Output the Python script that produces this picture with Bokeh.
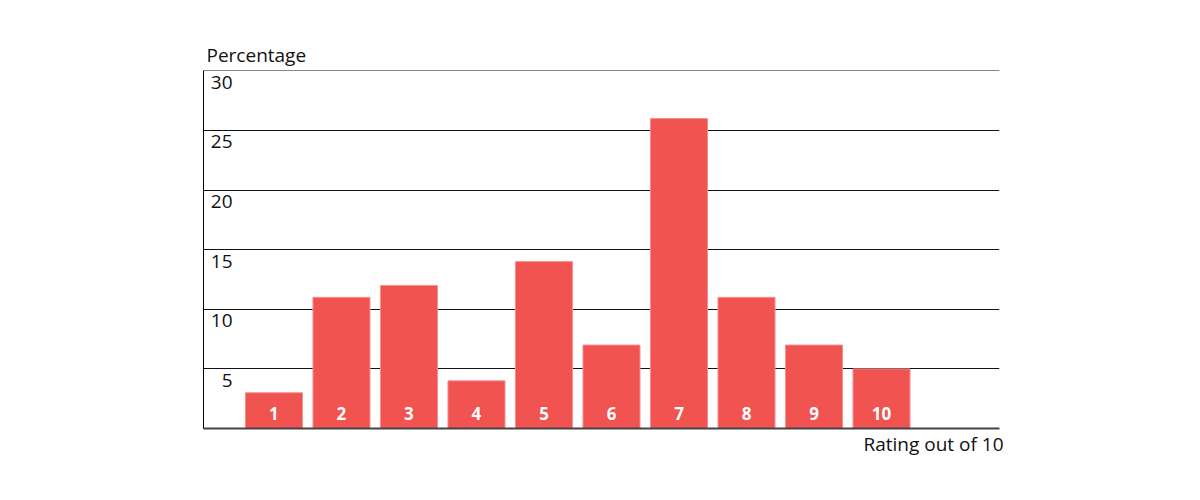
from bokeh.plotting import figure
from bokeh.models import Range1d, FixedTicker, ColumnDataSource, Title
from bokeh.core.properties import value
from bokeh.embed import file_html
from bokeh.resources import INLINE

# Data
ratings = [1, 2, 3, 4, 5, 6, 7, 8, 9, 10]
rating_labels = ["1", "2", "3", "4", "5", "6", "7", "8", "9", "10"]
percentages = [3, 11, 12, 4, 14, 7, 26, 11, 7, 5]
y_ticks = [5, 10, 15, 20, 25, 30]
y_tick_labels = ["5", "10", "15", "20", "25", "30"]

FONT = "Open Sans"
BAR_COLOR = "#F05350"

x_start, x_end = -0.044, 11.748

p = figure(
    width=1192, height=478,
    frame_width=796, frame_height=358,
    min_border_left=203, min_border_right=193,
    min_border_top=70, min_border_bottom=50,
    x_range=Range1d(x_start, x_end), y_range=Range1d(0, 30.03),
    output_backend="svg", toolbar_location=None,
)
p.outline_line_color = None
p.background_fill_color = "white"

p.title.text = "Percentage"
p.title.align = "left"
p.title.text_font = FONT
p.title.text_font_size = "19px"
p.title.text_font_style = "normal"
p.title.text_color = "#111111"
p.title.offset = 3
p.title.standoff = 6

p.add_layout(Title(text="Rating out of 10", align="right", text_font=FONT,
                   text_font_size="19px", text_font_style="normal",
                   text_color="#111111", offset=-4, standoff=1), "below")

# Grid
p.xgrid.visible = False
p.ygrid.ticker = FixedTicker(ticks=y_ticks)
p.ygrid.grid_line_color = "#111111"
p.ygrid.grid_line_width = 1

# Axes
p.yaxis.ticker = FixedTicker(ticks=[])
p.yaxis.major_label_text_font_size = "0px"
p.yaxis.major_tick_line_color = None
p.yaxis.minor_tick_line_color = None
p.yaxis.axis_line_color = "#000000"
p.yaxis.axis_line_width = 1

p.xaxis.ticker = FixedTicker(ticks=[])
p.xaxis.major_label_text_font_size = "0px"
p.xaxis.major_tick_line_color = None
p.xaxis.minor_tick_line_color = None
p.xaxis.axis_line_color = "#444444"
p.xaxis.axis_line_width = 2

src = ColumnDataSource(dict(x=ratings, top=percentages, label=rating_labels,
                            y0=[0] * len(ratings)))

p.vbar(x="x", top="top", width=0.845, source=src,
       fill_color=BAR_COLOR, line_color="#F59090", line_width=1)

p.text(x="x", y="y0", text="label", source=src,
       text_color="white", text_font=value(FONT), text_font_style="bold",
       text_font_size="17px", text_align="center", text_baseline="bottom",
       y_offset=-9)

tick_src = ColumnDataSource(dict(x=[x_start] * len(y_ticks), y=y_ticks,
                                 t=y_tick_labels))
p.text(x="x", y="y", text="t", source=tick_src,
       text_color="#111111", text_font=value(FONT), text_font_size="19px",
       text_align="right", text_baseline="top", x_offset=29, y_offset=5)

open("out.html", "w").write(file_html(p, INLINE))
